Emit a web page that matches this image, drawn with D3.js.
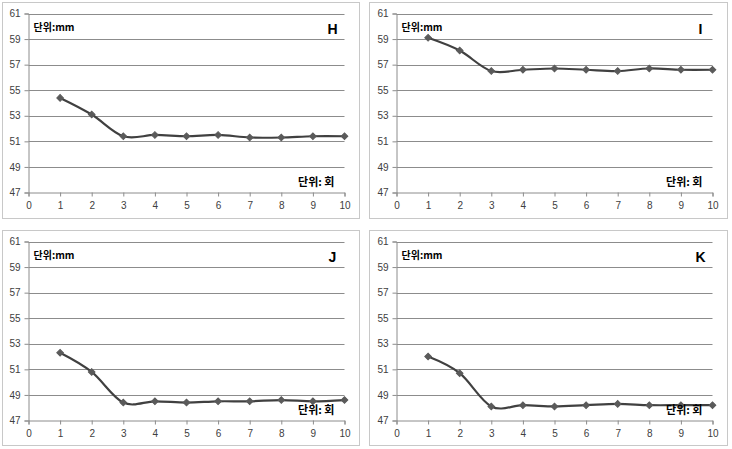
<!DOCTYPE html>
<html>
<head>
<meta charset="utf-8">
<script src="https://cdn.jsdelivr.net/npm/d3@7"></script>
<style>
  html, body { margin: 0; padding: 0; background: #fff; }
  svg { display: block; }
</style>
</head>
<body>
<svg id="chart" width="732" height="449"></svg>
<script>
// ---- data ----
const categories = [1, 2, 3, 4, 5, 6, 7, 8, 9, 10];
const xTicks = [0, 1, 2, 3, 4, 5, 6, 7, 8, 9, 10];
const yTicks = [47, 49, 51, 53, 55, 57, 59, 61];
const seriesH = [54.4, 53.1, 51.4, 51.5, 51.4, 51.5, 51.3, 51.3, 51.4, 51.4];
const seriesI = [59.1, 58.1, 56.5, 56.6, 56.7, 56.6, 56.5, 56.7, 56.6, 56.6];
const seriesJ = [52.3, 50.8, 48.4, 48.5, 48.4, 48.5, 48.5, 48.6, 48.5, 48.6];
const seriesK = [52.0, 50.7, 48.1, 48.2, 48.1, 48.2, 48.3, 48.2, 48.2, 48.2];
const panelNames = ["H", "I", "J", "K"];
const unitY = "단위:mm";
const unitX = "단위: 회";

// ---- layout ----
const panels = [
  { name: panelNames[0], data: seriesH, box: [2.5, 2.5, 359.5, 218.5], plot: [28.5, 13.5, 344.5, 192.5] },
  { name: panelNames[1], data: seriesI, box: [369.5, 2.5, 727.5, 218.5], plot: [396.5, 13.5, 712.5, 192.5] },
  { name: panelNames[2], data: seriesJ, box: [2.5, 230.5, 359.5, 445.5], plot: [28.5, 241.5, 344.5, 420.5] },
  { name: panelNames[3], data: seriesK, box: [369.5, 230.5, 727.5, 445.5], plot: [396.5, 241.5, 712.5, 420.5] }
];

const svg = d3.select("#chart");
const numFont = "'Liberation Sans', Arial, sans-serif";
const korFont = "'Noto Sans CJK KR', 'Noto Sans', sans-serif";

panels.forEach(p => {
  const [bx0, by0, bx1, by1] = p.box;
  const [px0, py0, px1, py1] = p.plot;
  const g = svg.append("g");

  g.append("rect")
    .attr("x", bx0).attr("y", by0)
    .attr("width", bx1 - bx0).attr("height", by1 - by0)
    .attr("fill", "#fff").attr("stroke", "#c8c8c8").attr("stroke-width", 1);

  const x = d3.scaleLinear().domain([0, 10]).range([px0, px1]);
  const y = d3.scaleLinear().domain([47, 61]).range([py1, py0]);

  // gridlines
  g.append("g").selectAll("line").data(yTicks.filter(t => t !== 47)).join("line")
    .attr("x1", px0).attr("x2", px1)
    .attr("y1", d => Math.round(y(d)) + 0.5).attr("y2", d => Math.round(y(d)) + 0.5)
    .attr("stroke", "#8c8c8c").attr("stroke-width", 1);

  // y axis
  const yAxis = d3.axisLeft(y).tickValues(yTicks).tickSize(4).tickPadding(4).tickFormat(d3.format("d"));
  const ya = g.append("g").attr("transform", `translate(${px0},0)`).call(yAxis);
  ya.select(".domain").attr("stroke", "#8c8c8c");
  ya.selectAll(".tick line").attr("stroke", "#8c8c8c");
  ya.selectAll(".tick text").attr("fill", "#404040").style("font-family", numFont).style("font-size", "10px");

  // x axis
  const xAxis = d3.axisBottom(x).tickValues(xTicks).tickSize(4).tickPadding(5).tickFormat(d3.format("d"));
  const xa = g.append("g").attr("transform", `translate(0,${py1})`).call(xAxis);
  xa.select(".domain").attr("stroke", "#8c8c8c");
  xa.selectAll(".tick line").attr("stroke", "#8c8c8c");
  xa.selectAll(".tick text").attr("fill", "#404040").style("font-family", numFont).style("font-size", "10px");

  // line
  const pts = categories.map((c, i) => [c, p.data[i]]);
  const line = d3.line().x(d => x(d[0])).y(d => y(d[1])).curve(d3.curveCardinal.tension(0));
  g.append("path").datum(pts)
    .attr("d", line).attr("fill", "none")
    .attr("stroke", "#404040").attr("stroke-width", 2.2).attr("stroke-linejoin", "round");

  // markers (rotated squares)
  const marker = d3.symbol().type(d3.symbolSquare).size(22);
  g.append("g").selectAll("path").data(pts).join("path")
    .attr("d", marker)
    .attr("transform", d => `translate(${x(d[0])},${y(d[1])}) rotate(45)`)
    .attr("fill", "#5a5a5a").attr("stroke", "#5a5a5a").attr("stroke-width", 1);

  // unit labels
  g.append("text").attr("x", px0 + 5).attr("y", py0 + 17)
    .text(unitY).attr("fill", "#000")
    .style("font-family", korFont).style("font-size", "10px").style("font-weight", "bold");

  g.append("text").attr("x", px1 - 10).attr("y", py1 - 7)
    .attr("text-anchor", "end")
    .text(unitX).attr("fill", "#000")
    .style("font-family", korFont).style("font-size", "11px").style("font-weight", "bold");

  // panel letter
  g.append("text").attr("x", px1 - 12).attr("y", py0 + 20)
    .attr("text-anchor", "middle")
    .text(p.name).attr("fill", "#000")
    .style("font-family", numFont).style("font-size", "14px").style("font-weight", "bold");
});
</script>
</body>
</html>
